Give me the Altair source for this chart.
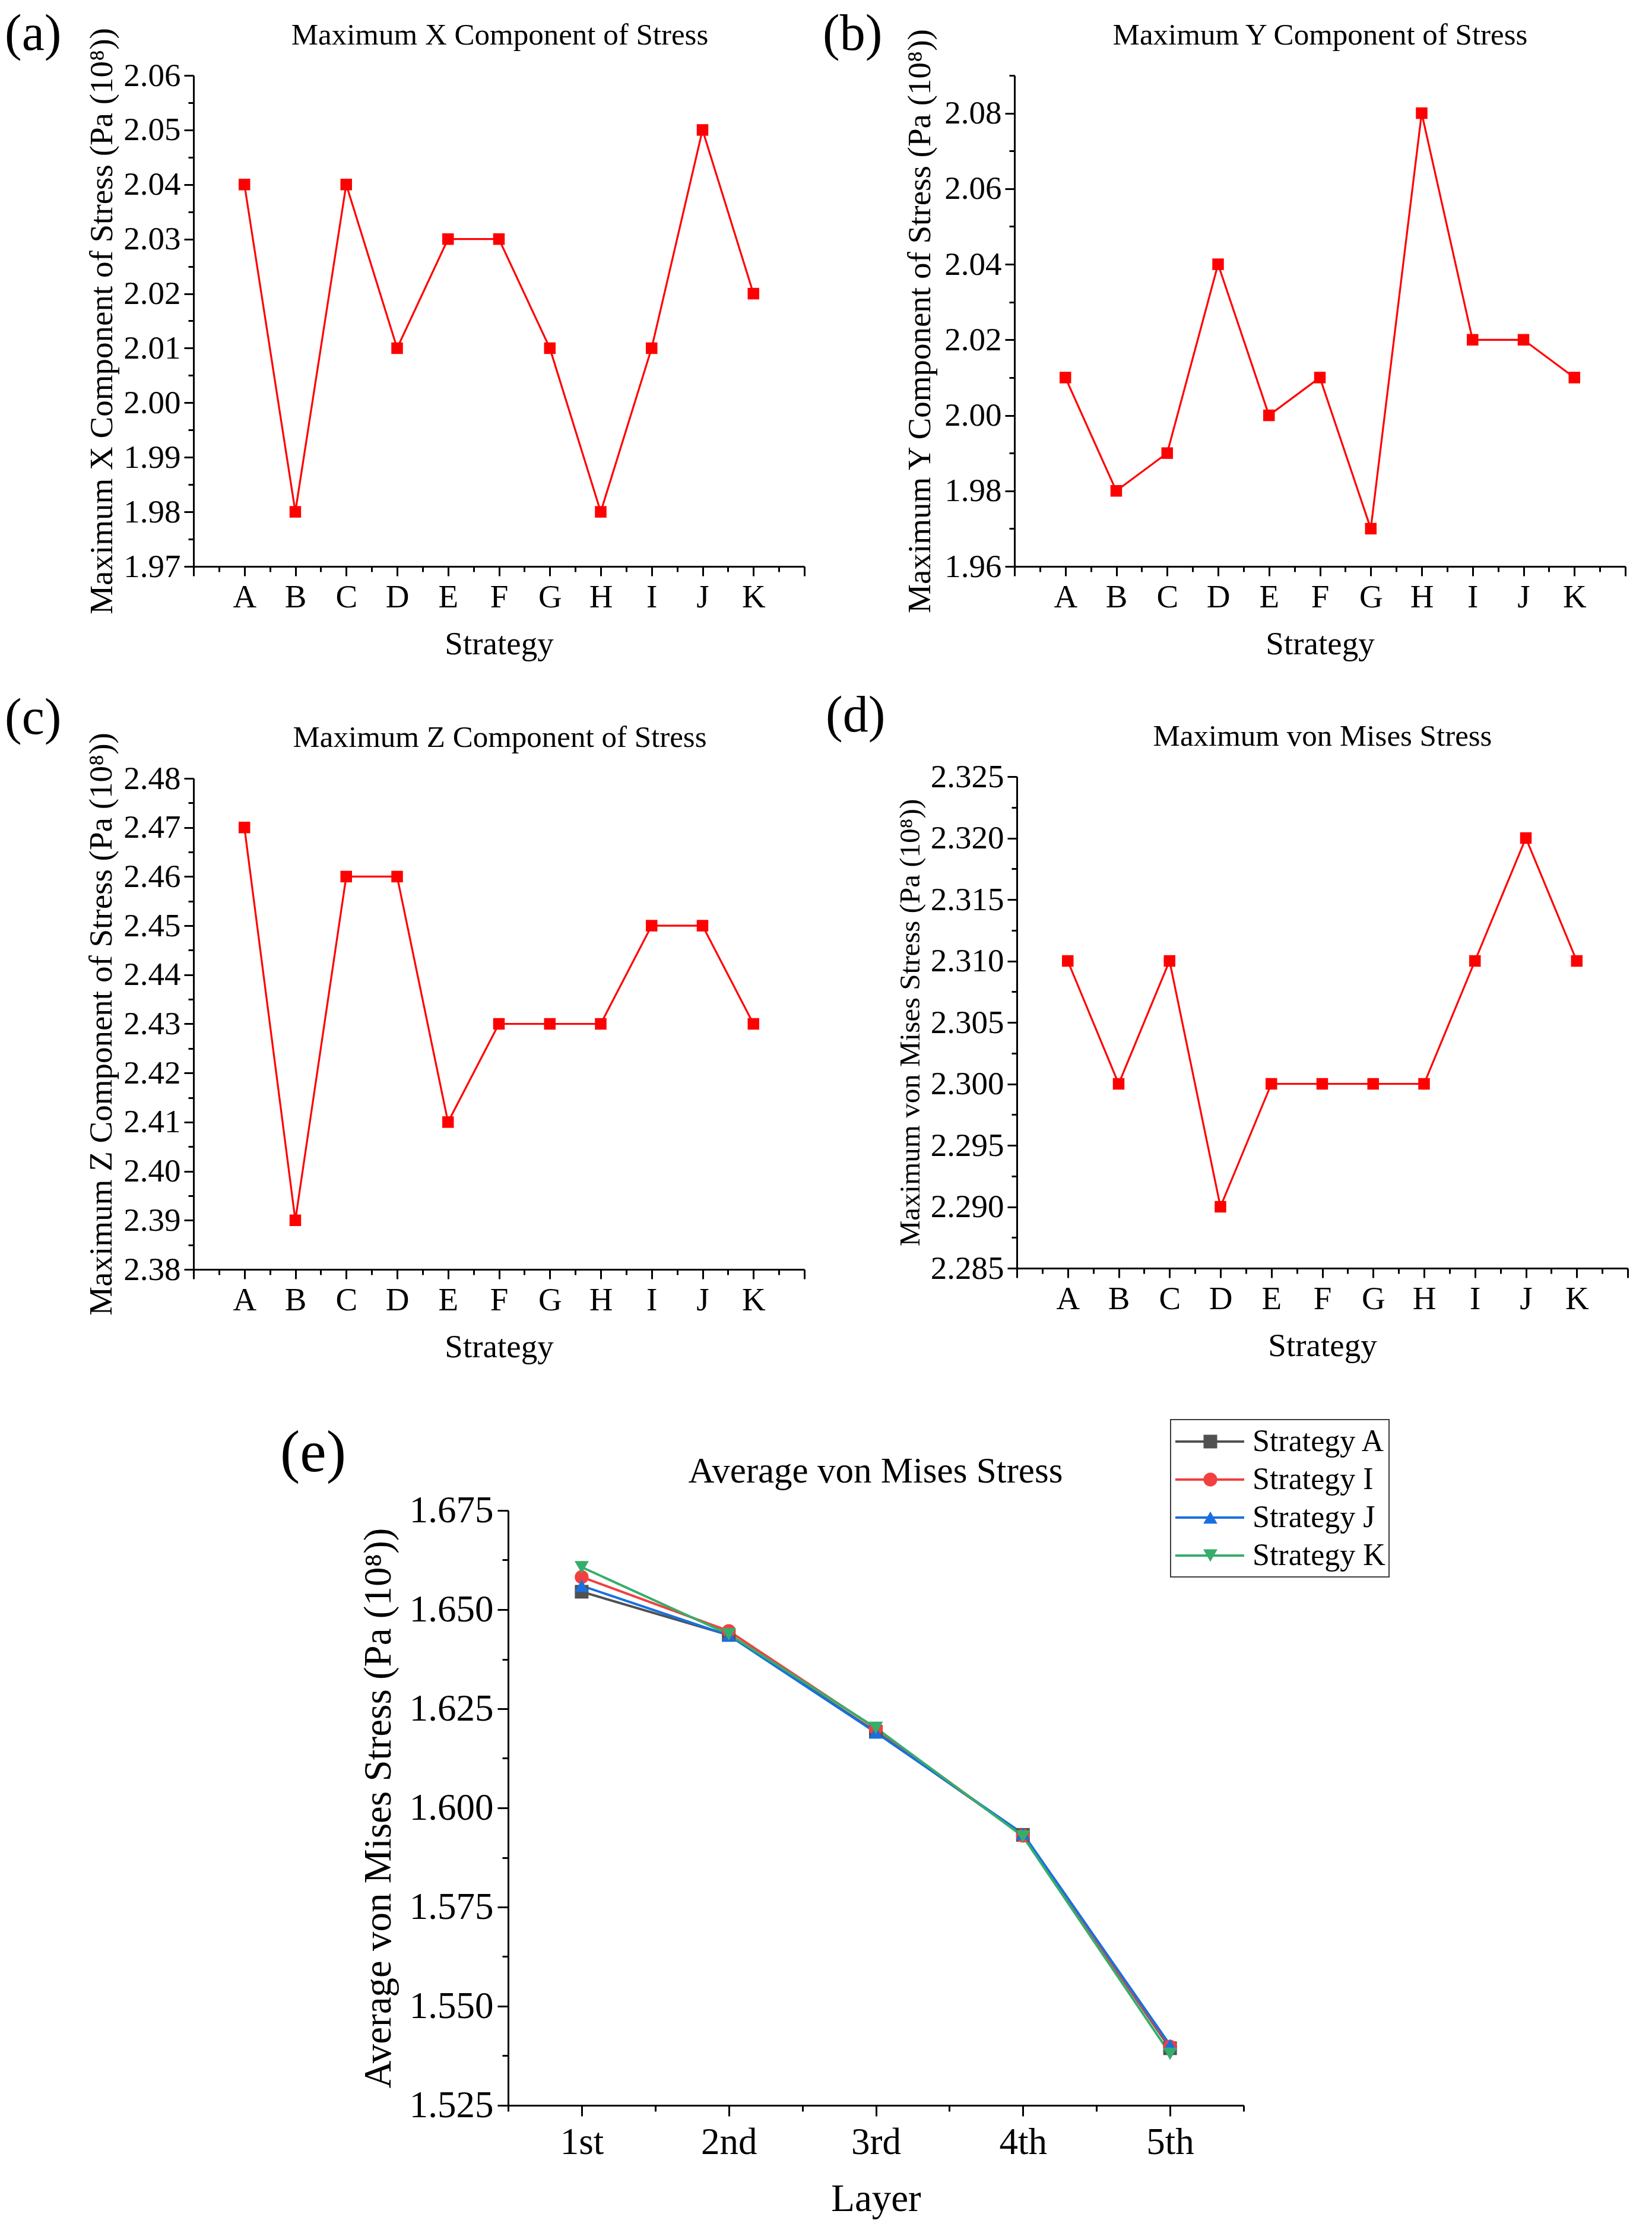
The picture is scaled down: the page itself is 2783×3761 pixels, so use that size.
import json
import altair as alt
import pandas as pd

# ---------------- data ----------------
strategies = ["A", "B", "C", "D", "E", "F", "G", "H", "I", "J", "K"]
max_x_stress = [2.04, 1.98, 2.04, 2.01, 2.03, 2.03, 2.01, 1.98, 2.01, 2.05, 2.02]
max_y_stress = [2.01, 1.98, 1.99, 2.04, 2.00, 2.01, 1.97, 2.08, 2.02, 2.02, 2.01]
max_z_stress = [2.47, 2.39, 2.46, 2.46, 2.41, 2.43, 2.43, 2.43, 2.45, 2.45, 2.43]
max_vm_stress = [2.310, 2.300, 2.310, 2.290, 2.300, 2.300, 2.300, 2.300, 2.310, 2.320, 2.310]

layer_names = ["1st", "2nd", "3rd", "4th", "5th"]
series_names = ["Strategy A", "Strategy I", "Strategy J", "Strategy K"]
avg_strategy_a = [1.6545, 1.6436, 1.6192, 1.5932, 1.5394]
avg_strategy_i = [1.6582, 1.6446, 1.6200, 1.5930, 1.5398]
avg_strategy_j = [1.6560, 1.6435, 1.6190, 1.5935, 1.5402]
avg_strategy_k = [1.6607, 1.6438, 1.6202, 1.5928, 1.5380]
series_colors = ["#515151", "#F14040", "#1A6FDF", "#37AD6B"]
series_shapes = ["square", "circle", "triangle-up", "triangle-down"]
series_sizes = [529, 576, 784, 784]

# axis tick values
yticks_a = [1.97, 1.98, 1.99, 2.00, 2.01, 2.02, 2.03, 2.04, 2.05, 2.06]
yticks_b = [1.96, 1.98, 2.00, 2.02, 2.04, 2.06, 2.08]
yminor_b = [1.97, 1.99, 2.01, 2.03, 2.05, 2.07, 2.09]
yticks_c = [2.38, 2.39, 2.40, 2.41, 2.42, 2.43, 2.44, 2.45, 2.46, 2.47, 2.48]
yticks_d = [2.285, 2.290, 2.295, 2.300, 2.305, 2.310, 2.315, 2.320, 2.325]
yticks_e = [1.525, 1.550, 1.575, 1.600, 1.625, 1.650, 1.675]

# ---------------- layout / style ----------------
FONT = "Liberation Serif"
W, H = 2783, 3761
RED = "#FF0000"


def mids(vals):
    return [round((a + b) / 2, 6) for a, b in zip(vals[:-1], vals[1:])]


def axis_common(fs):
    return dict(labelFont=FONT, labelFontSize=fs, labelColor="black",
                labelOverlap=False, labelFlush=False, grid=False,
                tickColor="black", domainColor="black",
                titleFont=FONT, titleFontWeight="normal", titleColor="black")


def text_layer(txt, x, y, size, align="center"):
    return alt.Chart(alt.Data(values=[{"t": txt}])).mark_text(
        font=FONT, fontSize=size, align=align, baseline="middle", color="black"
    ).encode(x=alt.value(x), y=alt.value(y), text="t:N")


def axis_layer(df, xfield, yfield, xs, ys, xaxis, yaxis):
    return alt.Chart(df).mark_point(opacity=0).encode(
        x=alt.X(xfield, scale=xs, axis=xaxis),
        y=alt.Y(yfield, scale=ys, axis=yaxis))


def strategy_panel(values, box, ydomain, ymajor, yminor, yfmt, ytitle, ytitle_dx, ytitle_fs):
    left, right, top, bottom = box
    n = len(strategies)
    df = pd.DataFrame({"pos": list(range(1, n + 1)), "strategy": strategies, "value": values})
    xs = alt.Scale(domain=[0, n + 1], range=[left, right], nice=False, zero=False)
    ys = alt.Scale(domain=ydomain, range=[bottom, top], nice=False, zero=False)
    label_expr = f"datum.value >= 1 && datum.value <= {n} ? {json.dumps(strategies)}[datum.value - 1] : ''"
    x_major = alt.Axis(orient="bottom", offset=bottom - H, values=list(range(0, n + 2)),
                       labelExpr=label_expr, labelPadding=9, tickSize=16, tickWidth=3,
                       domainWidth=3, title="Strategy", titleFontSize=55,
                       titleX=(left + right) / 2, titleY=130, titleBaseline="middle",
                       titleAlign="center", **axis_common(55))
    y_major = alt.Axis(orient="left", offset=-left, values=ymajor, format=yfmt,
                       labelPadding=6, tickSize=16, tickWidth=3, domainWidth=3,
                       title=ytitle, titleFontSize=ytitle_fs, titleX=ytitle_dx,
                       titleY=(top + bottom) / 2, titleAngle=270, titleBaseline="middle",
                       titleAlign="center", **axis_common(55))
    x_minor = alt.Axis(orient="bottom", offset=bottom - H, values=[i + 0.5 for i in range(0, n + 1)],
                       labels=False, domain=False, tickSize=9, tickWidth=3, tickColor="black",
                       grid=False, title=None)
    y_minor = alt.Axis(orient="left", offset=-left, values=yminor, labels=False, domain=False,
                       tickSize=9, tickWidth=3, tickColor="black", grid=False, title=None)

    base = alt.Chart(df)
    line = base.mark_line(color=RED, strokeWidth=3.2).encode(
        x=alt.X("pos:Q", scale=xs, axis=None),
        y=alt.Y("value:Q", scale=ys, axis=None))
    pts = base.mark_point(shape="square", filled=True, color=RED, size=380, opacity=1).encode(
        x=alt.X("pos:Q", scale=xs, axis=None),
        y=alt.Y("value:Q", scale=ys, axis=None))
    return [
        axis_layer(df, "pos:Q", "value:Q", xs, ys, x_minor, y_minor),
        axis_layer(df, "pos:Q", "value:Q", xs, ys, x_major, y_major),
        line,
        pts,
    ]


SUP = "\u2078"
layers = []

# (a)
layers += strategy_panel(max_x_stress, (326, 1355, 127, 954), [1.97, 2.06], yticks_a, mids(yticks_a), ".2f",
                         f"Maximum X Component of Stress (Pa (10{SUP}))", -155, 55)
# (b)
layers += strategy_panel(max_y_stress, (1709, 2738, 127, 954), [1.96, 2.09], yticks_b, yminor_b, ".2f",
                         f"Maximum Y Component of Stress (Pa (10{SUP}))", -160, 55)
# (c)
layers += strategy_panel(max_z_stress, (326, 1355, 1311, 2138), [2.38, 2.48], yticks_c, mids(yticks_c), ".2f",
                         f"Maximum Z Component of Stress (Pa (10{SUP}))", -156, 55)
# (d)
layers += strategy_panel(max_vm_stress, (1713, 2742, 1308, 2136), [2.285, 2.325], yticks_d, mids(yticks_d), ".3f",
                         f"Maximum von Mises Stress (Pa (10{SUP}))", -180, 49)

# (e)
E_LEFT, E_RIGHT, E_TOP, E_BOTTOM = 856, 2095, 2544, 3546
rows = []
for s, vals in zip(series_names, [avg_strategy_a, avg_strategy_i, avg_strategy_j, avg_strategy_k]):
    for i, (ln, v) in enumerate(zip(layer_names, vals), start=1):
        rows.append({"pos": i, "layer": ln, "series": s, "value": v})
df_e = pd.DataFrame(rows)

cs = alt.Scale(domain=series_names, range=series_colors)
ss = alt.Scale(domain=series_names, range=series_shapes)
zs = alt.Scale(domain=series_names, range=series_sizes)
xs_e = alt.Scale(domain=[0.5, len(layer_names) + 0.5], range=[E_LEFT, E_RIGHT], nice=False, zero=False)
ys_e = alt.Scale(domain=[1.525, 1.675], range=[E_BOTTOM, E_TOP], nice=False, zero=False)
label_expr_e = f"datum.value >= 1 && datum.value <= {len(layer_names)} ? {json.dumps(layer_names)}[datum.value - 1] : ''"
x_major_e = alt.Axis(orient="bottom", offset=E_BOTTOM - H, values=list(range(1, len(layer_names) + 1)),
                     labelExpr=label_expr_e, labelPadding=13, tickSize=18, tickWidth=3, domainWidth=3,
                     title="Layer", titleFontSize=65, titleX=(E_LEFT + E_RIGHT) / 2, titleY=157,
                     titleBaseline="middle", titleAlign="center", **axis_common(63))
y_major_e = alt.Axis(orient="left", offset=-E_LEFT, values=yticks_e, format=".3f", labelPadding=7,
                     tickSize=18, tickWidth=3, domainWidth=3,
                     title=f"Average von Mises Stress (Pa (10{SUP}))", titleFontSize=65, titleX=-219,
                     titleY=(E_TOP + E_BOTTOM) / 2, titleAngle=270, titleBaseline="middle",
                     titleAlign="center", **axis_common(63))
x_minor_e = alt.Axis(orient="bottom", offset=E_BOTTOM - H, values=[i + 0.5 for i in range(0, len(layer_names) + 1)],
                     labels=False, domain=False, tickSize=10, tickWidth=3, tickColor="black",
                     grid=False, title=None)
y_minor_e = alt.Axis(orient="left", offset=-E_LEFT, values=mids(yticks_e), labels=False, domain=False,
                     tickSize=10, tickWidth=3, tickColor="black", grid=False, title=None)

base_e = alt.Chart(df_e)
line_e = base_e.mark_line(strokeWidth=4).encode(
    x=alt.X("pos:Q", scale=xs_e, axis=None),
    y=alt.Y("value:Q", scale=ys_e, axis=None),
    color=alt.Color("series:N", scale=cs, legend=None),
    order=alt.Order("pos:Q"))
pts_e = base_e.mark_point(filled=True, opacity=1).encode(
    x=alt.X("pos:Q", scale=xs_e, axis=None),
    y=alt.Y("value:Q", scale=ys_e, axis=None),
    color=alt.Color("series:N", scale=cs, legend=None),
    shape=alt.Shape("series:N", scale=ss, legend=None),
    size=alt.Size("series:N", scale=zs, legend=None))
layers += [
    axis_layer(df_e, "pos:Q", "value:Q", xs_e, ys_e, x_minor_e, y_minor_e),
    axis_layer(df_e, "pos:Q", "value:Q", xs_e, ys_e, x_major_e, y_major_e),
    line_e,
    pts_e,
]

# legend of (e)
df_leg = pd.DataFrame({"series": series_names})
ly = alt.Scale(type="point", domain=series_names, range=[2428, 2620], padding=0)
leg_box = alt.Chart(alt.Data(values=[{}])).mark_rect(
    fillOpacity=0, stroke="#3c3c3c", strokeWidth=2
).encode(x=alt.value(1972), x2=alt.value(2340), y=alt.value(2391), y2=alt.value(2656))
leg_base = alt.Chart(df_leg)
leg_rule = leg_base.mark_rule(strokeWidth=4).encode(
    x=alt.value(1980), x2=alt.value(2096),
    y=alt.Y("series:N", scale=ly, axis=None),
    color=alt.Color("series:N", scale=cs, legend=None))
leg_pt = leg_base.mark_point(filled=True, opacity=1).encode(
    x=alt.value(2039),
    y=alt.Y("series:N", scale=ly, axis=None),
    color=alt.Color("series:N", scale=cs, legend=None),
    shape=alt.Shape("series:N", scale=ss, legend=None),
    size=alt.Size("series:N", scale=zs, legend=None))
leg_txt = leg_base.mark_text(font=FONT, fontSize=52, align="left", baseline="middle", color="black").encode(
    x=alt.value(2110),
    y=alt.Y("series:N", scale=ly, axis=None),
    text="series:N")
layers += [leg_box, alt.layer(leg_rule, leg_pt, leg_txt)]

# titles and panel tags
layers += [
    text_layer("(a)", 8, 58, 86, "left"),
    text_layer("Maximum X Component of Stress", 842, 60, 51),
    text_layer("(b)", 1386, 58, 86, "left"),
    text_layer("Maximum Y Component of Stress", 2224, 60, 51),
    text_layer("(c)", 8, 1210, 86, "left"),
    text_layer("Maximum Z Component of Stress", 842, 1243, 51),
    text_layer("(d)", 1391, 1206, 86, "left"),
    text_layer("Maximum von Mises Stress", 2228, 1241, 51),
    text_layer("(e)", 472, 2448, 100, "left"),
    text_layer("Average von Mises Stress", 1475, 2479, 61),
]

chart = alt.layer(*layers).resolve_scale(
    x="independent", y="independent"
).resolve_axis(
    x="independent", y="independent"
).properties(
    width=W, height=H, padding=0, background="white",
    autosize=alt.AutoSizeParams(type="none")
).configure(
    font=FONT
).configure_axis(
    labelFont=FONT, titleFont=FONT, titleFontWeight="normal"
).configure_text(
    font=FONT
).configure_view(stroke=None)

chart.save("out.html", embed_options={"renderer": "svg", "actions": False})
